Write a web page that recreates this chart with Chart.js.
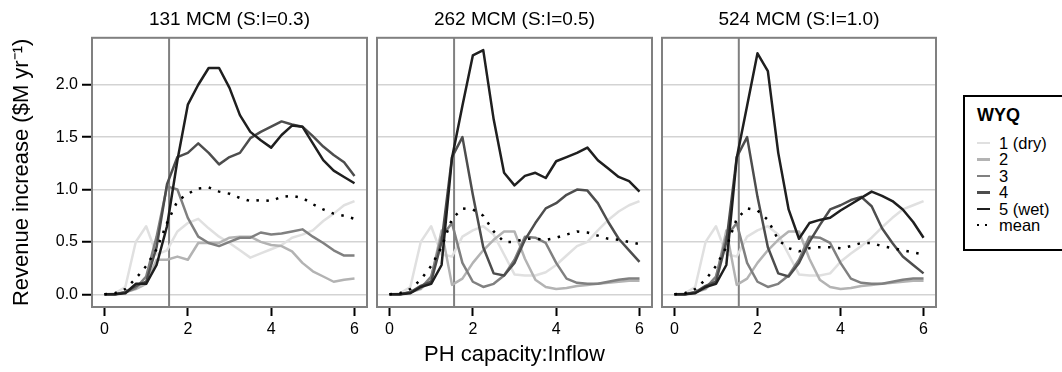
<!DOCTYPE html>
<html>
<head>
<meta charset="utf-8">
<script src="https://cdn.jsdelivr.net/npm/chart.js@4.4.1/dist/chart.umd.min.js"></script>
<style>
  body { margin: 0; background: #fff; font-family: "Liberation Sans", Arial, sans-serif; }
  #wrap { position: relative; width: 1062px; height: 372px; overflow: hidden; }
  #wrap canvas { position: absolute; top: 0; }
  #legend { position: absolute; left: 963px; top: 95px; width: 110px; height: 156px;
            border: 2px solid #000; box-sizing: border-box; }
  #legend .ttl { position: absolute; left: 12px; top: 8px; font-size: 18px; font-weight: bold; line-height: 20px; }
  #legend .rows { position: absolute; left: 12px; top: 38px; }
  #legend .row { height: 16.4px; line-height: 16.4px; font-size: 16.5px; white-space: nowrap; display: flex; align-items: center; }
  #legend .key { width: 13px; height: 2.5px; margin-right: 9px; }
</style>
</head>
<body>
<div id="wrap">
  <canvas id="p1" width="372" height="372" style="left:0px"></canvas>
  <canvas id="p2" width="285" height="372" style="left:372px"></canvas>
  <canvas id="p3" width="284" height="372" style="left:657px"></canvas>
  <div id="legend"><div class="ttl">WYQ</div><div class="rows" id="rows"></div></div>
</div>
<script>
// values, x = PH capacity:Inflow
const capacity = [0, 0.25, 0.5, 0.75, 1, 1.25, 1.5, 1.75, 2, 2.25, 2.5, 2.75, 3,
                  3.25, 3.5, 3.75, 4, 4.25, 4.5, 4.75, 5, 5.25, 5.5, 5.75, 6];
const panelTitles = ['131 MCM (S:I=0.3)', '262 MCM (S:I=0.5)', '524 MCM (S:I=1.0)'];
const seriesNames = ['1 (dry)', '2', '3', '4', '5 (wet)', 'mean'];
const xTicks = [0, 2, 4, 6];
const yTicks = [0, 0.5, 1, 1.5, 2];
const phRatio = 1.55;

// 131 MCM
const wyq1_131 = [0, 0.01, 0.07, 0.50, 0.65, 0.38, 0.42, 0.60, 0.68, 0.72, 0.63, 0.55, 0.49, 0.42, 0.35, 0.39, 0.43, 0.47, 0.54, 0.57, 0.61, 0.70, 0.77, 0.85, 0.89];
const wyq2_131 = [0, 0, 0.02, 0.05, 0.10, 0.33, 0.33, 0.36, 0.33, 0.49, 0.49, 0.49, 0.54, 0.55, 0.55, 0.50, 0.47, 0.46, 0.41, 0.30, 0.22, 0.17, 0.12, 0.14, 0.15];
const wyq3_131 = [0, 0, 0.02, 0.06, 0.17, 0.55, 1.03, 1.00, 0.73, 0.55, 0.49, 0.46, 0.50, 0.54, 0.54, 0.59, 0.57, 0.58, 0.60, 0.62, 0.55, 0.49, 0.42, 0.37, 0.37];
const wyq4_131 = [0, 0, 0.02, 0.08, 0.12, 0.45, 1.05, 1.31, 1.35, 1.44, 1.35, 1.24, 1.31, 1.35, 1.49, 1.55, 1.60, 1.65, 1.62, 1.60, 1.51, 1.41, 1.33, 1.26, 1.13];
const wyq5_131 = [0, 0, 0.01, 0.10, 0.10, 0.28, 0.65, 1.28, 1.81, 2.00, 2.16, 2.16, 1.97, 1.71, 1.55, 1.47, 1.40, 1.52, 1.61, 1.60, 1.44, 1.28, 1.18, 1.12, 1.06];
const mean_131 = [0, 0.01, 0.05, 0.15, 0.27, 0.43, 0.68, 0.89, 0.96, 1.01, 1.02, 0.98, 0.96, 0.92, 0.89, 0.90, 0.89, 0.93, 0.94, 0.92, 0.86, 0.81, 0.77, 0.75, 0.72];

// 262 MCM
const wyq1_262 = [0, 0.01, 0.07, 0.50, 0.65, 0.38, 0.36, 0.55, 0.61, 0.65, 0.57, 0.38, 0.19, 0.18, 0.18, 0.21, 0.28, 0.37, 0.46, 0.50, 0.61, 0.71, 0.79, 0.85, 0.89];
const wyq2_262 = [0, 0, 0.02, 0.05, 0.15, 0.61, 0.09, 0.15, 0.30, 0.42, 0.52, 0.60, 0.60, 0.34, 0.14, 0.07, 0.05, 0.06, 0.08, 0.09, 0.10, 0.11, 0.12, 0.13, 0.13];
const wyq3_262 = [0, 0, 0.02, 0.06, 0.17, 0.55, 0.68, 0.30, 0.12, 0.07, 0.10, 0.18, 0.33, 0.55, 0.54, 0.49, 0.30, 0.15, 0.11, 0.10, 0.10, 0.12, 0.14, 0.15, 0.15];
const wyq4_262 = [0, 0, 0.02, 0.08, 0.12, 0.50, 1.31, 1.50, 0.95, 0.45, 0.20, 0.18, 0.30, 0.52, 0.68, 0.82, 0.87, 0.95, 1.00, 0.99, 0.87, 0.69, 0.53, 0.42, 0.31];
const wyq5_262 = [0, 0, 0.01, 0.07, 0.10, 0.28, 1.30, 1.80, 2.28, 2.33, 1.67, 1.16, 1.04, 1.13, 1.16, 1.11, 1.27, 1.31, 1.35, 1.40, 1.28, 1.20, 1.12, 1.08, 0.98];
const mean_262 = [0, 0.01, 0.05, 0.14, 0.27, 0.45, 0.72, 0.82, 0.81, 0.75, 0.60, 0.50, 0.50, 0.53, 0.53, 0.52, 0.54, 0.57, 0.60, 0.59, 0.56, 0.53, 0.52, 0.50, 0.48];

// 524 MCM
const wyq1_524 = [0, 0.01, 0.07, 0.50, 0.65, 0.38, 0.36, 0.55, 0.61, 0.65, 0.57, 0.38, 0.19, 0.18, 0.18, 0.20, 0.31, 0.39, 0.46, 0.54, 0.64, 0.73, 0.81, 0.85, 0.89];
const wyq2_524 = [0, 0, 0.02, 0.05, 0.15, 0.61, 0.09, 0.15, 0.30, 0.42, 0.52, 0.60, 0.60, 0.34, 0.14, 0.07, 0.05, 0.06, 0.08, 0.09, 0.10, 0.11, 0.12, 0.13, 0.13];
const wyq3_524 = [0, 0, 0.02, 0.06, 0.17, 0.55, 0.68, 0.30, 0.12, 0.07, 0.10, 0.18, 0.33, 0.55, 0.54, 0.49, 0.30, 0.15, 0.11, 0.10, 0.10, 0.12, 0.14, 0.15, 0.15];
const wyq4_524 = [0, 0, 0.02, 0.08, 0.12, 0.50, 1.31, 1.50, 0.93, 0.45, 0.20, 0.17, 0.30, 0.50, 0.66, 0.81, 0.85, 0.90, 0.93, 0.84, 0.63, 0.49, 0.36, 0.28, 0.20];
const wyq5_524 = [0, 0, 0.01, 0.07, 0.10, 0.28, 1.30, 1.80, 2.30, 2.13, 1.35, 0.81, 0.53, 0.68, 0.71, 0.73, 0.80, 0.86, 0.92, 0.98, 0.94, 0.89, 0.81, 0.69, 0.54];
const mean_524 = [0, 0.01, 0.05, 0.14, 0.27, 0.45, 0.72, 0.82, 0.80, 0.71, 0.52, 0.44, 0.41, 0.44, 0.45, 0.45, 0.44, 0.46, 0.49, 0.49, 0.46, 0.44, 0.42, 0.40, 0.38];

const GREYS = ['#e0e0e0', '#b3b3b3', '#808080', '#4d4d4d', '#1f1f1f'];
const Y_MIN = -0.121, Y_MAX = 2.448;
const FONT = '"Liberation Sans", Arial, sans-serif';

Chart.defaults.font.family = FONT;
Chart.defaults.color = '#000';

// grey panel border on all four sides
const framePlugin = {
    id: 'frame',
    afterDatasetsDraw(chart) {
        const { ctx, chartArea: a } = chart;
        ctx.save();
        ctx.strokeStyle = '#808080';
        ctx.lineWidth = 2;
        ctx.strokeRect(a.left, a.top, a.right - a.left, a.bottom - a.top);
        ctx.restore();
    }
};

const pts = arr => arr.map((v, i) => ({ x: capacity[i], y: v }));

function makePanel(id, idx, series) {
    const first = idx === 0;
    const datasets = [
        { label: seriesNames[5], data: pts(series[5]), borderColor: '#000', borderWidth: 2.5, borderDash: [2.5, 7.5] }
    ];
    for (let k = 4; k >= 0; k--) {
        datasets.push({ label: seriesNames[k], data: pts(series[k]), borderColor: GREYS[k], borderWidth: 2.5 });
    }
    datasets.push({ label: 'ratio', data: [{ x: phRatio, y: Y_MIN }, { x: phRatio, y: Y_MAX }], borderColor: '#808080', borderWidth: 2 });

    return new Chart(document.getElementById(id), {
        type: 'line',
        data: { datasets },
        options: {
            responsive: false, animation: false, devicePixelRatio: 1,
            layout: { padding: { right: 5 } },
            elements: { point: { radius: 0 }, line: { tension: 0, borderJoinStyle: 'round' } },
            plugins: {
                legend: { display: false },
                tooltip: { enabled: false },
                title: {
                    display: true, text: panelTitles[idx], fullSize: false,
                    font: { size: 19, weight: 'normal' }, color: '#000',
                    padding: { top: 8, bottom: 7 }
                }
            },
            scales: {
                x: {
                    type: 'linear', min: -0.3, max: 6.3,
                    afterBuildTicks: s => { s.ticks = xTicks.map(v => ({ value: v })); },
                    afterFit: s => { s.height = 65; },
                    grid: { color: 'rgba(0,0,0,0)', drawTicks: true, tickColor: '#000', tickLength: 9, tickWidth: 2 },
                    border: { display: false },
                    ticks: { font: { size: 16 }, color: '#000', padding: 4, maxRotation: 0 },
                    title: { display: idx === 1, text: 'PH capacity:Inflow', font: { size: 22 }, color: '#000', padding: { top: 0, bottom: 4 } }
                },
                y: {
                    min: Y_MIN, max: Y_MAX,
                    afterBuildTicks: s => { s.ticks = yTicks.map(v => ({ value: v })); },
                    afterFit: s => { s.width = first ? 92 : 5; },
                    grid: { color: '#d3d3d3', lineWidth: 1.5, drawTicks: first, tickColor: '#000', tickLength: 10, tickWidth: 2 },
                    border: { display: false },
                    ticks: { display: first, font: { size: 16 }, color: '#000', padding: 4, callback: v => v.toFixed(1) },
                    title: { display: first, text: 'Revenue increase ($M yr\u207B\u00B9)', font: { size: 22 }, color: '#000', padding: { top: 9, bottom: 0 } }
                }
            }
        },
        plugins: [framePlugin]
    });
}

makePanel('p1', 0, [wyq1_131, wyq2_131, wyq3_131, wyq4_131, wyq5_131, mean_131]);
makePanel('p2', 1, [wyq1_262, wyq2_262, wyq3_262, wyq4_262, wyq5_262, mean_262]);
makePanel('p3', 2, [wyq1_524, wyq2_524, wyq3_524, wyq4_524, wyq5_524, mean_524]);

// legend box
const rows = document.getElementById('rows');
seriesNames.forEach((name, i) => {
    const row = document.createElement('div');
    row.className = 'row';
    const key = document.createElement('span');
    key.className = 'key';
    key.style.background = i < 5 ? GREYS[i]
        : 'repeating-linear-gradient(to right, #000 0 2.5px, transparent 2.5px 8px)';
    row.appendChild(key);
    row.appendChild(document.createTextNode(name));
    rows.appendChild(row);
});
</script>
</body>
</html>
